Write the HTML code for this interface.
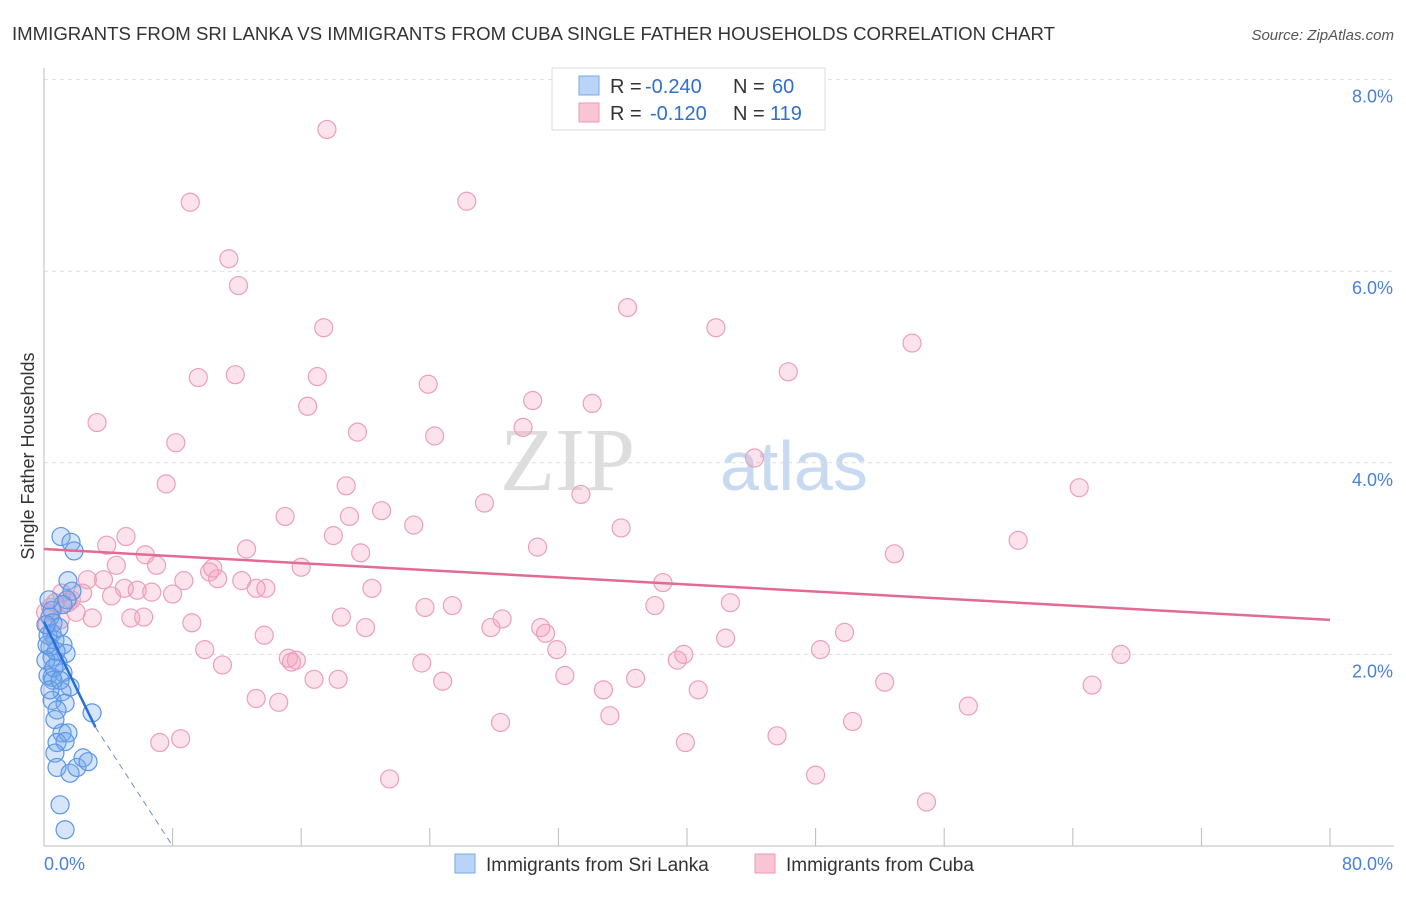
<!DOCTYPE html>
<html><head><meta charset="utf-8"><style>
body{margin:0;background:#fff;font-family:"Liberation Sans",sans-serif}
</style></head><body>
<svg width="1406" height="892" xmlns="http://www.w3.org/2000/svg" font-family="Liberation Sans, sans-serif">
<text x="12" y="40" font-size="18" fill="#333" textLength="1043" lengthAdjust="spacingAndGlyphs">IMMIGRANTS FROM SRI LANKA VS IMMIGRANTS FROM CUBA SINGLE FATHER HOUSEHOLDS CORRELATION CHART</text>
<text x="1394" y="40" font-size="15" fill="#555" text-anchor="end" font-style="italic">Source: ZipAtlas.com</text>
<g>
<text x="635" y="490" font-size="90" fill="#ddd" text-anchor="end" font-family="Liberation Serif, serif">ZIP</text>
<text x="720" y="490" font-size="70" fill="#c8daf2">atlas</text>
</g>
<g id="grid"></g>
<line x1="44" y1="68" x2="44" y2="846" stroke="#bbb"/>
<line x1="44" y1="846" x2="1394" y2="846" stroke="#bbb"/>
<text transform="translate(34,456) rotate(-90)" font-size="18" fill="#333" text-anchor="middle">Single Father Households</text>
<text x="44" y="870" font-size="18" fill="#4a7fd8">0.0%</text>
<text x="1393" y="870" font-size="18" fill="#4a7fd8" text-anchor="end">80.0%</text>
<g id="marks"></g>
<g>
<rect x="552" y="68" width="273" height="62" fill="#fff" stroke="#ddd"/>
<rect x="579" y="76" width="20" height="19" fill="#b9d4f6" stroke="#7aaae8"/>
<rect x="579" y="103" width="20" height="19" fill="#f9c5d5" stroke="#ec9ab5"/>
<text x="610" y="93" font-size="20" fill="#333">R =</text>
<text x="645" y="93" font-size="20" fill="#2f6fd0">-0.240</text>
<text x="733" y="93" font-size="20" fill="#333">N =</text>
<text x="772" y="93" font-size="20" fill="#2f6fd0">60</text>
<text x="610" y="120" font-size="20" fill="#333">R =</text>
<text x="650" y="120" font-size="20" fill="#2f6fd0">-0.120</text>
<text x="733" y="120" font-size="20" fill="#333">N =</text>
<text x="770" y="120" font-size="20" fill="#2f6fd0">119</text>
</g>
<g>
<rect x="455" y="854" width="20" height="19" fill="#b9d4f6" stroke="#7aaae8"/>
<text x="486" y="871" font-size="19" fill="#333">Immigrants from Sri Lanka</text>
<rect x="755" y="854" width="20" height="19" fill="#f9c5d5" stroke="#ec9ab5"/>
<text x="786" y="871" font-size="19" fill="#333">Immigrants from Cuba</text>
</g>
</svg>
<script>
const yTicks=[2,4,6,8];
const yTickLabels=["2.0%","4.0%","6.0%","8.0%"];
const xTicks=[8,16,24,32,40,48,56,64,72,80];
const cubaX=[17.6,9.1,26.3,11.5,12.1,36.3,17.4,41.8,54.0,9.6,11.9,17.0,23.9,46.3,16.4,30.4,34.1,3.3,19.5,24.3,29.8,8.2,44.2,7.6,18.8,64.4,27.4,33.4,15.0,19.0,21.0,23.0,35.9,18.0,5.1,3.9,30.7,60.6,12.6,6.3,19.7,52.9,4.5,7.0,16.0,10.3,10.5,2.7,3.7,8.7,12.3,10.8,38.5,20.4,5.0,5.8,2.4,13.2,13.8,4.2,6.7,8.0,1.1,1.7,23.7,25.4,38.0,42.7,2.0,3.0,5.4,6.2,18.5,28.5,9.2,27.8,20.0,30.9,31.2,49.8,13.7,42.4,31.9,67.0,10.0,48.3,39.8,15.2,15.7,39.4,15.4,23.5,11.1,16.8,18.3,24.8,32.4,36.8,52.3,65.2,34.8,40.7,13.2,14.6,57.5,35.2,28.4,50.3,45.6,7.2,8.5,39.9,21.5,48.0,54.9,0.1,0.4,0.7,1.5,1.0,0.2];
const cubaY=[7.48,6.72,6.73,6.13,5.85,5.62,5.41,5.41,5.25,4.89,4.92,4.90,4.82,4.95,4.59,4.65,4.62,4.42,4.32,4.28,4.37,4.21,4.05,3.78,3.76,3.74,3.58,3.67,3.44,3.44,3.50,3.35,3.32,3.24,3.23,3.14,3.12,3.19,3.10,3.04,3.06,3.05,2.93,2.93,2.91,2.86,2.90,2.78,2.78,2.77,2.77,2.79,2.75,2.69,2.69,2.67,2.64,2.69,2.69,2.61,2.65,2.63,2.64,2.57,2.49,2.51,2.51,2.54,2.44,2.38,2.38,2.39,2.39,2.37,2.33,2.28,2.28,2.28,2.22,2.23,2.20,2.17,2.05,2.00,2.05,2.05,2.00,1.96,1.94,1.94,1.92,1.91,1.89,1.74,1.74,1.72,1.78,1.75,1.71,1.68,1.63,1.63,1.54,1.50,1.46,1.36,1.29,1.30,1.15,1.08,1.12,1.08,0.70,0.74,0.46,2.44,2.49,2.54,2.54,2.36,2.31];
const lankaX=[1.06,1.68,1.87,1.49,1.74,1.43,1.18,0.5,0.37,0.56,0.5,0.68,1.18,1.37,0.37,0.5,0.87,1.18,0.5,1.62,1.12,0.5,1.31,0.81,2.99,0.68,1.12,1.49,0.81,1.31,0.68,0.81,1.62,2.05,2.43,2.74,1.0,1.31,0.25,0.75,0.25,0.56,0.12,0.37,0.93,0.19,0.62,1.0,0.12,0.31];
const lankaY=[3.23,3.17,3.08,2.77,2.66,2.57,2.52,2.46,2.39,2.33,2.22,2.15,2.10,2.01,2.08,1.97,1.91,1.81,1.76,1.66,1.61,1.52,1.49,1.42,1.39,1.32,1.18,1.18,1.08,1.09,0.97,0.82,0.76,0.82,0.92,0.88,0.43,0.17,2.20,2.03,1.78,1.73,1.94,1.63,2.28,2.10,1.86,1.73,2.31,2.57];
const cubaTrend=[3.10,2.36];
const lankaTrend=[2.34,1.24,0];
const lankaTrendX=[0,3.2,8.0];

const NS="http://www.w3.org/2000/svg";
function sx(v){return 44+v*(1286/80);}
function sy(v){return 846-v*95.8;}
function mk(t,a,p){const e=document.createElementNS(NS,t);for(const k in a)e.setAttribute(k,a[k]);p.appendChild(e);return e;}
const grid=document.getElementById('grid');
yTicks.forEach((t,i)=>{
 const l=mk('line',{x1:44,x2:1394,y1:sy(t),y2:sy(t),stroke:'#ddd','stroke-dasharray':'4,4'},grid);
 
 
 const tx=mk('text',{x:1393,y:sy(t)+23,'font-size':18,fill:'#4a7fd8','text-anchor':'end'},grid);
 tx.textContent=yTickLabels[i];
 
 
});
xTicks.forEach(t=>{
 const l=mk('line',{x1:sx(t),x2:sx(t),y1:828,y2:846,stroke:'#bbb'},grid);
 
 
});
const marks=document.getElementById('marks');
cubaX.forEach((x,i)=>{
 const c=mk('circle',{cx:sx(x),cy:sy(cubaY[i]),r:9,fill:'rgba(244,160,188,0.3)',stroke:'#eaa0ba','stroke-width':1.2},marks);
 
 
});
lankaX.forEach((x,i)=>{
 const c=mk('circle',{cx:sx(x),cy:sy(lankaY[i]),r:9,fill:'rgba(120,170,235,0.3)',stroke:'#5a96e6','stroke-width':1.2},marks);
 
 
});
const pt=mk('line',{x1:sx(0),y1:sy(cubaTrend[0]),x2:sx(80),y2:sy(cubaTrend[1]),stroke:'#e36a95','stroke-width':2.5},marks);


const bt=mk('line',{x1:sx(lankaTrendX[0]),y1:sy(lankaTrend[0]),x2:sx(lankaTrendX[1]),y2:sy(lankaTrend[1]),stroke:'#2a6fd6','stroke-width':2.5},marks);


const bd=mk('line',{x1:sx(lankaTrendX[1]),y1:sy(lankaTrend[1]),x2:sx(lankaTrendX[2]),y2:sy(lankaTrend[2]),stroke:'#6a8fd0','stroke-width':1,'stroke-dasharray':'6,5'},marks);


</script>
</body></html>
